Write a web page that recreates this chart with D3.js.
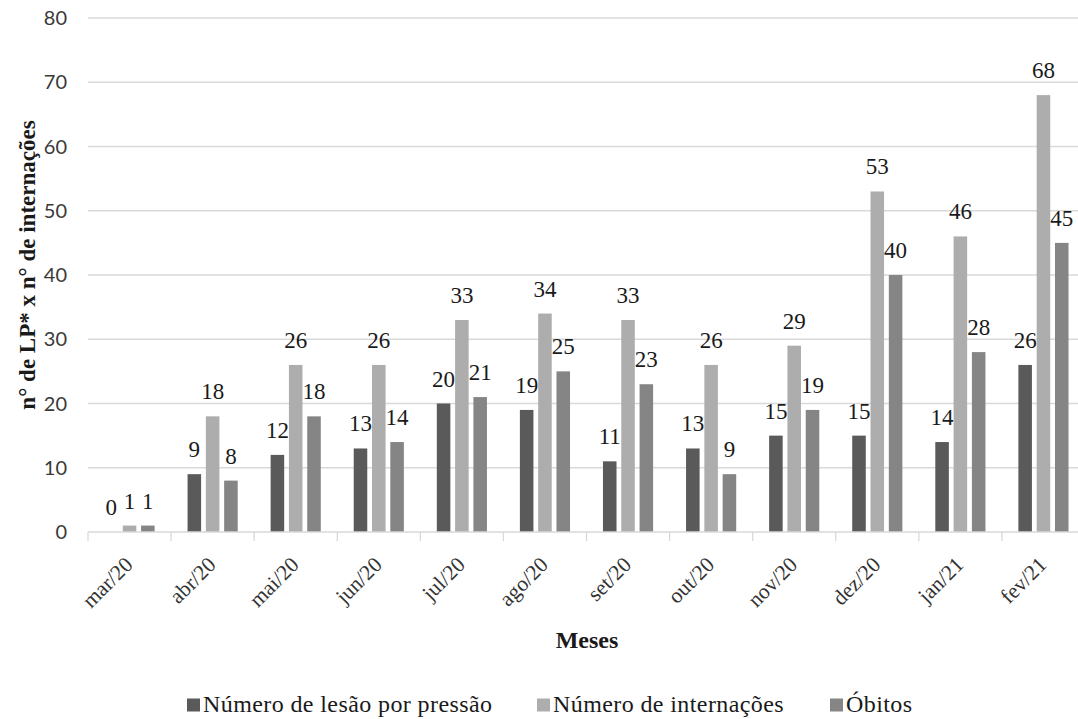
<!DOCTYPE html>
<html>
<head>
<meta charset="utf-8">
<script src="https://cdn.jsdelivr.net/npm/d3@7"></script>
<style>
  html, body { margin: 0; padding: 0; background: #ffffff; }
  svg { display: block; }
</style>
</head>
<body>
<svg id="chart" width="1078" height="719"></svg>
<script>
// Monthly counts, mar/20 – fev/21
const months = ["mar/20","abr/20","mai/20","jun/20","jul/20","ago/20","set/20","out/20","nov/20","dez/20","jan/21","fev/21"];
const lesoes = [0, 9, 12, 13, 20, 19, 11, 13, 15, 15, 14, 26];
const internacoes = [1, 18, 26, 26, 33, 34, 33, 26, 29, 53, 46, 68];
const obitos = [1, 8, 18, 14, 21, 25, 23, 9, 19, 40, 28, 45];
const seriesNames = ["Número de lesão por pressão", "Número de internações", "Óbitos"];
const yTicks = [0, 10, 20, 30, 40, 50, 60, 70, 80];

const seriesValues = [lesoes, internacoes, obitos];
const colors = ["#5a5a5a", "#adadad", "#858585"];
const serif = "'Liberation Serif', 'Times New Roman', serif";
const sans = "Lato, 'Open Sans', sans-serif";

const svg = d3.select("#chart");
const plot = { left: 88, right: 1085, top: 18, bottom: 532 };

const x = d3.scaleBand().domain(months).range([plot.left, plot.right]);
const inner = d3.scaleBand().domain(d3.range(3))
  .range([0, x.bandwidth()]).paddingInner(0.26).paddingOuter(0.9);
const y = d3.scaleLinear().domain([0, 80]).range([plot.bottom, plot.top]);

// gridlines
svg.append("g").selectAll("line")
  .data(yTicks.filter(d => d > 0))
  .join("line")
  .attr("x1", plot.left).attr("x2", 1078)
  .attr("y1", d => y(d)).attr("y2", d => y(d))
  .attr("stroke", "#d9d9d9").attr("stroke-width", 1.3);

// y tick labels
svg.append("g").selectAll("text")
  .data(yTicks)
  .join("text")
  .attr("x", 67).attr("y", d => y(d))
  .attr("dy", "0.36em")
  .attr("text-anchor", "end")
  .attr("font-family", sans).attr("font-size", 20).attr("fill", "#3a3a3a")
  .text(d => d);

// bars and value labels
seriesValues.forEach((vals, s) => {
  const rows = months.map((m, i) => ({ m, v: vals[i] }));
  const g = svg.append("g");
  g.selectAll("rect")
    .data(rows)
    .join("rect")
    .attr("x", d => x(d.m) + inner(s))
    .attr("width", inner.bandwidth())
    .attr("y", d => y(d.v))
    .attr("height", d => plot.bottom - y(d.v))
    .attr("fill", colors[s]);
  g.selectAll("text")
    .data(rows)
    .join("text")
    .attr("x", d => x(d.m) + inner(s) + inner.bandwidth() / 2)
    .attr("y", d => y(d.v) - 17)
    .attr("text-anchor", "middle")
    .attr("font-family", serif).attr("font-size", 23).attr("fill", "#1a1a1a")
    .text(d => d.v);
});

// x axis line and ticks
const axis = svg.append("g");
axis.append("line")
  .attr("x1", plot.left).attr("x2", 1078)
  .attr("y1", plot.bottom).attr("y2", plot.bottom)
  .attr("stroke", "#d9d9d9").attr("stroke-width", 1.3);
axis.selectAll("line.tick")
  .data(months.map(m => x(m)).concat([plot.right]))
  .join("line")
  .attr("class", "tick")
  .attr("x1", d => d).attr("x2", d => d)
  .attr("y1", plot.bottom).attr("y2", plot.bottom + 9)
  .attr("stroke", "#d9d9d9").attr("stroke-width", 1.3);

// x tick labels, rotated
axis.selectAll("text")
  .data(months)
  .join("text")
  .attr("transform", d => `translate(${x(d) + x.bandwidth() / 2 + 4.5},${plot.bottom + 34}) rotate(-45)`)
  .attr("text-anchor", "end")
  .attr("font-family", serif).attr("font-size", 21.5).attr("fill", "#333")
  .text(d => d);

// axis titles
svg.append("text")
  .attr("transform", "translate(35,265) rotate(-90)")
  .attr("text-anchor", "middle")
  .attr("font-family", serif).attr("font-size", 23).attr("font-weight", "bold")
  .attr("fill", "#1a1a1a")
  .text("n° de LP* x n° de internações");

svg.append("text")
  .attr("x", 587).attr("y", 648)
  .attr("text-anchor", "middle")
  .attr("font-family", serif).attr("font-size", 24).attr("font-weight", "bold")
  .attr("fill", "#1a1a1a")
  .text("Meses");

// legend
const legendX = [187, 537, 830];
const legend = svg.append("g");
seriesNames.forEach((name, s) => {
  legend.append("rect")
    .attr("x", legendX[s]).attr("y", 698.5)
    .attr("width", 13).attr("height", 13)
    .attr("fill", colors[s]);
  legend.append("text")
    .attr("x", legendX[s] + 16).attr("y", 712)
    .attr("font-family", serif).attr("font-size", 24)
    .attr("letter-spacing", 0.4).attr("fill", "#1a1a1a")
    .text(name);
});
</script>
</body>
</html>
